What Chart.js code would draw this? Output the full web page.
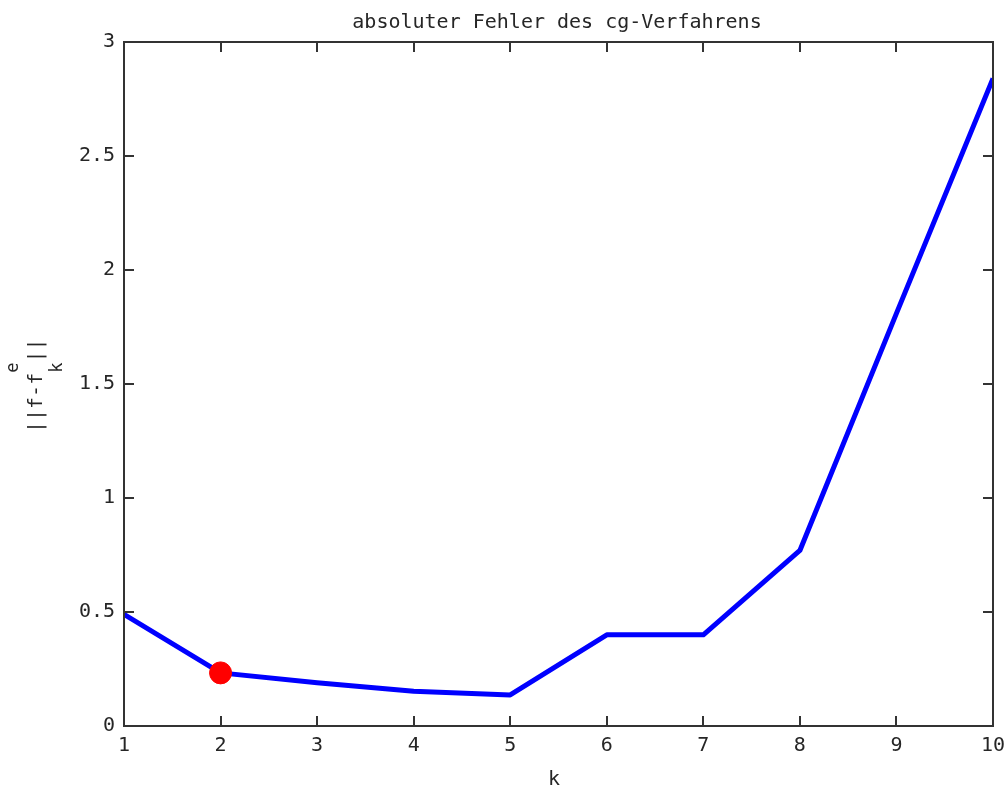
<!DOCTYPE html>
<html>
<head>
<meta charset="utf-8">
<script src="https://cdn.jsdelivr.net/npm/chart.js@4.4.1/dist/chart.umd.min.js"></script>
<style>
  html, body { margin: 0; padding: 0; background: #fff; }
  #wrap { width: 1006px; height: 790px; }
</style>
</head>
<body>
<div id="wrap"><canvas id="c" width="1006" height="790"></canvas></div>
<script>
// ---- data ----
const kValues = [1, 2, 3, 4, 5, 6, 7, 8, 9, 10];
const errValues = [0.49, 0.233, 0.19, 0.152, 0.136, 0.40, 0.40, 0.77, 1.81, 2.84];
const markerK = [2];
const markerErr = [0.233];
const xTicks = [1, 2, 3, 4, 5, 6, 7, 8, 9, 10];
const yTicks = [0, 0.5, 1, 1.5, 2, 2.5, 3];
const titleText = 'absoluter Fehler des cg-Verfahrens';
const xLabelText = 'k';

const FONT = '"DejaVu Sans Mono", "Liberation Mono", monospace';
const TEXT_COLOR = '#262626';
const AXIS_COLOR = '#333333';

const decor = {
  id: 'decor',
  afterDatasetsDraw(chart) {
    const ctx = chart.ctx;
    const a = chart.chartArea;
    const xs = chart.scales.x, ys = chart.scales.y;
    ctx.save();
    // frame
    ctx.strokeStyle = AXIS_COLOR;
    ctx.lineWidth = 2;
    ctx.strokeRect(a.left, a.top, a.right - a.left, a.bottom - a.top);
    // inward ticks
    const tl = 10;
    ctx.beginPath();
    xTicks.forEach(v => {
      const px = Math.round(xs.getPixelForValue(v));
      ctx.moveTo(px, a.bottom); ctx.lineTo(px, a.bottom - tl);
      ctx.moveTo(px, a.top); ctx.lineTo(px, a.top + tl);
    });
    yTicks.forEach(v => {
      const py = Math.round(ys.getPixelForValue(v));
      ctx.moveTo(a.left, py); ctx.lineTo(a.left + tl, py);
      ctx.moveTo(a.right, py); ctx.lineTo(a.right - tl, py);
    });
    ctx.stroke();

    // title
    ctx.fillStyle = TEXT_COLOR;
    ctx.font = '20px ' + FONT;
    ctx.textAlign = 'center';
    ctx.textBaseline = 'alphabetic';
    ctx.fillText(titleText, 557, 28);
    // x label
    ctx.font = '20px ' + FONT;
    ctx.fillText(xLabelText, 554, 785);

    // y label ||f-f^e_k||
    ctx.translate(42, 433);
    ctx.rotate(-Math.PI / 2);
    ctx.textAlign = 'left';
    ctx.font = '20px ' + FONT;
    const p1 = '||f-f';
    ctx.fillText(p1, 0, 0);
    const w1 = ctx.measureText(p1).width;
    ctx.font = '17px ' + FONT;
    ctx.fillText('e', w1, -24);
    ctx.fillText('k', w1, 20);
    const w2 = Math.max(ctx.measureText('e').width, ctx.measureText('k').width);
    ctx.font = '20px ' + FONT;
    ctx.fillText('||', w1 + w2, 0);
    ctx.restore();
  }
};

new Chart(document.getElementById('c'), {
  type: 'line',
  data: {
    datasets: [
      {
        label: 'error',
        data: kValues.map((k, i) => ({ x: k, y: errValues[i] })),
        borderColor: '#0000ff',
        borderWidth: 5,
        pointRadius: 0,
        fill: false,
        tension: 0,
        borderJoinStyle: 'round',
        order: 2
      },
      {
        label: 'marker',
        data: markerK.map((k, i) => ({ x: k, y: markerErr[i] })),
        showLine: false,
        pointRadius: 11,
        pointBackgroundColor: '#ff0000',
        pointBorderColor: '#ff0000',
        pointBorderWidth: 1,
        order: 1
      }
    ]
  },
  options: {
    responsive: false,
    animation: false,
    events: [],
    layout: { padding: { top: 42, right: 13, left: 0, bottom: 0 } },
    plugins: {
      legend: { display: false },
      tooltip: { enabled: false },
      title: { display: false }
    },
    scales: {
      x: {
        type: 'linear',
        min: 1, max: 10,
        grid: { display: false, drawTicks: false },
        border: { display: false },
        afterBuildTicks: s => { s.ticks = xTicks.map(v => ({ value: v })); },
        afterFit: s => { s.height = 64; s.paddingLeft = 0; s.paddingRight = 0; },
        ticks: {
          color: TEXT_COLOR,
          font: { family: FONT, size: 20 },
          padding: 8,
          maxRotation: 0,
          autoSkip: false,
          callback: v => String(v)
        }
      },
      y: {
        type: 'linear',
        min: 0, max: 3,
        grid: { display: false, drawTicks: false },
        border: { display: false },
        afterBuildTicks: s => { s.ticks = yTicks.map(v => ({ value: v })); },
        afterFit: s => { s.width = 124; s.paddingTop = 0; s.paddingBottom = 0; },
        ticks: {
          color: TEXT_COLOR,
          font: { family: FONT, size: 20 },
          padding: 9,
          autoSkip: false,
          callback: v => String(v)
        }
      }
    }
  },
  plugins: [decor]
});
</script>
</body>
</html>
